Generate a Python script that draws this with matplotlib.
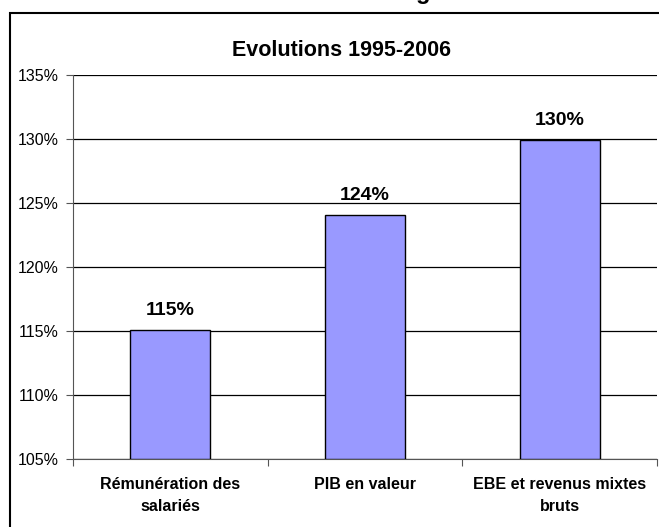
import matplotlib.pyplot as plt
from matplotlib.patches import Rectangle
from matplotlib.ticker import FixedLocator, FuncFormatter

categories = ["Rémunération des\nsalariés", "PIB en valeur", "EBE et revenus mixtes\nbruts"]
values = [115.1, 124.1, 129.9]
value_labels = ["115%", "124%", "130%"]
y_ticks = [105, 110, 115, 120, 125, 130, 135]

FONT = ["Liberation Sans", "DejaVu Sans"]
plt.rcParams["font.family"] = FONT

fig = plt.figure(figsize=(6.59, 5.27), dpi=100)
ax = fig.add_axes([73 / 659, 1 - 459 / 527, 584 / 659, 384 / 527])

# outer chart frame (cropped at the right and bottom)
fig.patches.append(Rectangle((10 / 659, -0.05), 1.2, 1 - 13 / 527 + 0.05, transform=fig.transFigure,
                             fill=False, edgecolor="black", linewidth=1.5))
# descender of a cropped heading above the frame
fig.text(423 / 659, 1 + 1 / 527, "g", ha="center", va="baseline", fontsize=17,
         fontweight="bold")

x = range(len(categories))
ax.bar(x, [v - 105 for v in values], bottom=105, width=0.41, color="#9999FF",
       edgecolor="black", linewidth=1.0, zorder=3)
for xi, v, lab in zip(x, values, value_labels):
    ax.text(xi, v + 0.85, lab, ha="center", va="bottom", fontsize=14, fontweight="bold")

ax.set_xlim(-0.5, 2.5)
ax.set_ylim(105, 135)
ax.set_yticks(y_ticks)
ax.yaxis.set_major_formatter(FuncFormatter(lambda v, p: f"{v:.0f}%"))
ax.grid(axis="y", color="black", linewidth=0.9, zorder=0)

ax.xaxis.set_major_locator(FixedLocator([-0.5, 0.5, 1.5, 2.5]))
ax.xaxis.set_minor_locator(FixedLocator(list(x)))
ax.set_xticklabels([])
ax.set_xticklabels(categories, minor=True, fontweight="bold", fontsize=11.5, linespacing=1.6)
ax.tick_params(axis="x", which="major", length=5, color="#555555")
ax.tick_params(axis="x", which="minor", length=0, pad=13)
ax.tick_params(axis="y", length=5, color="#555555", pad=5, labelsize=11.5)

for side in ["top", "right"]:
    ax.spines[side].set_visible(False)
ax.spines["left"].set_color("#555555")
ax.spines["bottom"].set_color("#555555")

fig.text(342 / 659, 1 - 50 / 527, "Evolutions 1995-2006", ha="center", va="center",
         fontsize=15.5, fontweight="bold")

fig.savefig("out.png", dpi=100)
